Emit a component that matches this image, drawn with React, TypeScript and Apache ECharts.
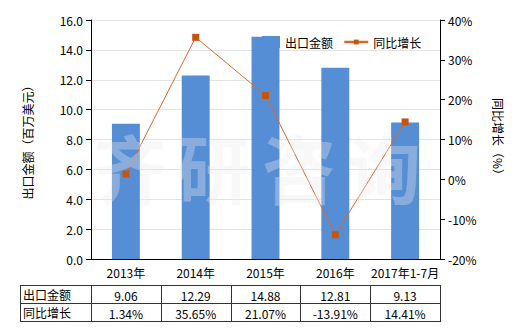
import React, { useEffect, useRef } from "react";
import * as echarts from "echarts";

const categories = ["2013年", "2014年", "2015年", "2016年", "2017年1-7月"];
const exportValues = [9.06, 12.29, 14.88, 12.81, 9.13];
const growthValues = [1.34, 35.65, 21.07, -13.91, 14.41];
const exportLabels = ["9.06", "12.29", "14.88", "12.81", "9.13"];
const growthLabels = ["1.34%", "35.65%", "21.07%", "-13.91%", "14.41%"];
const seriesNames = ["出口金额", "同比增长"];
const watermarkChars = ["齐", "研", "咨", "询"];

const W = 520;
const H = 330;
const GL = 91;
const GR = 440;
const GT = 20;
const GB = 259;
const FONT = "'Noto Sans CJK SC', 'Noto Sans', sans-serif";

export default function App() {
  const ref = useRef<HTMLDivElement>(null);
  useEffect(() => {
    if (!ref.current) return;
    const chart = echarts.init(ref.current, undefined, { renderer: "svg" });
    const band = (GR - GL) / categories.length;
    const tLeft = 20;
    const tTop = 285;
    const rowH = 18;
    const graphics: any[] = [];
    const lineStyle = { stroke: "#333", lineWidth: 1 };
    for (let r = 0; r <= 2; r++) {
      graphics.push({
        type: "line",
        shape: { x1: tLeft, y1: tTop + r * rowH + 0.5, x2: GR, y2: tTop + r * rowH + 0.5 },
        style: lineStyle,
        silent: true,
      });
    }
    const xs = [tLeft, ...categories.map((_, i) => GL + i * band), GR];
    xs.forEach((x) => {
      graphics.push({
        type: "line",
        shape: { x1: Math.round(x) + 0.5, y1: tTop, x2: Math.round(x) + 0.5, y2: tTop + 2 * rowH + 1 },
        style: lineStyle,
        silent: true,
      });
    });
    const rows = [exportLabels, growthLabels];
    rows.forEach((row, r) => {
      graphics.push({
        type: "text",
        x: tLeft + 3,
        y: tTop + r * rowH + rowH / 2,
        style: { text: seriesNames[r], fill: "#000", font: `12px ${FONT}`, textAlign: "left", textVerticalAlign: "middle" },
        silent: true,
      });
      row.forEach((t, i) => {
        graphics.push({
          type: "text",
          x: GL + i * band + band / 2,
          y: tTop + r * rowH + rowH / 2 + 1,
          style: { text: t, fill: "#000", font: `12px ${FONT}`, textAlign: "center", textVerticalAlign: "middle" },
          silent: true,
        });
      });
    });
    const wmX = [130, 213, 299, 384];
    watermarkChars.forEach((c, i) => {
      graphics.push({
        type: "text",
        x: wmX[i],
        y: 165,
        z: 100,
        style: {
          text: c,
          fill: "rgba(235,235,235,0.34)",
          font: `bold 74px ${FONT}`,
          textAlign: "center",
          textVerticalAlign: "middle",
        },
        silent: true,
      });
    });

    chart.setOption({
      animation: false,
      textStyle: { fontFamily: FONT },
      grid: { left: GL, right: W - GR, top: GT, bottom: H - GB, containLabel: false },
      legend: [
        {
          left: 257,
          top: 31,
          itemWidth: 18,
          itemHeight: 12,
          textStyle: { fontSize: 12, color: "#000", fontFamily: FONT },
          data: [{ name: seriesNames[0], icon: "rect" }],
        },
        {
          left: 338,
          top: 31,
          itemWidth: 24,
          itemHeight: 6,
          textStyle: { fontSize: 12, color: "#000", fontFamily: FONT },
          lineStyle: { width: 2.5 },
          data: [{ name: seriesNames[1] }],
        },
      ],
      xAxis: {
        type: "category",
        data: categories,
        axisLine: { lineStyle: { color: "#000" } },
        axisTick: { lineStyle: { color: "#000" } },
        axisLabel: { color: "#000", fontSize: 12, margin: 7, interval: 0 },
      },
      yAxis: [
        {
          type: "value",
          min: 0,
          max: 16,
          interval: 2,
          name: "出口金额（百万美元）",
          nameLocation: "middle",
          nameRotate: 90,
          nameGap: 58,
          nameTextStyle: { color: "#000", fontSize: 12 },
          axisLine: { show: true, lineStyle: { color: "#000" } },
          axisTick: { show: true, lineStyle: { color: "#000" } },
          axisLabel: { color: "#000", fontSize: 12, formatter: (v: number) => v.toFixed(1) },
          splitLine: { lineStyle: { color: "#e3e3e3" } },
        },
        {
          type: "value",
          min: -20,
          max: 40,
          interval: 10,
          name: "同比增长（%）",
          nameLocation: "middle",
          nameRotate: -90,
          nameGap: 52,
          nameTextStyle: { color: "#000", fontSize: 12 },
          axisLine: { show: true, lineStyle: { color: "#000" } },
          axisTick: { show: true, lineStyle: { color: "#000" } },
          axisLabel: { color: "#000", fontSize: 12, formatter: "{value}%" },
          splitLine: { show: false },
        },
      ],
      series: [
        {
          name: seriesNames[0],
          type: "bar",
          data: exportValues,
          barWidth: "40%",
          itemStyle: { color: "#558ed5" },
        },
        {
          name: seriesNames[1],
          type: "line",
          yAxisIndex: 1,
          data: growthValues,
          symbol: "rect",
          symbolSize: 7,
          lineStyle: { color: "#d8692c", width: 1 },
          itemStyle: { color: "#c8530c" },
        },
      ],
      graphic: graphics,
    });
    return () => chart.dispose();
  }, []);
  return <div ref={ref} style={{ width: W, height: H, position: "absolute", left: 0, top: 0 }} />;
}
